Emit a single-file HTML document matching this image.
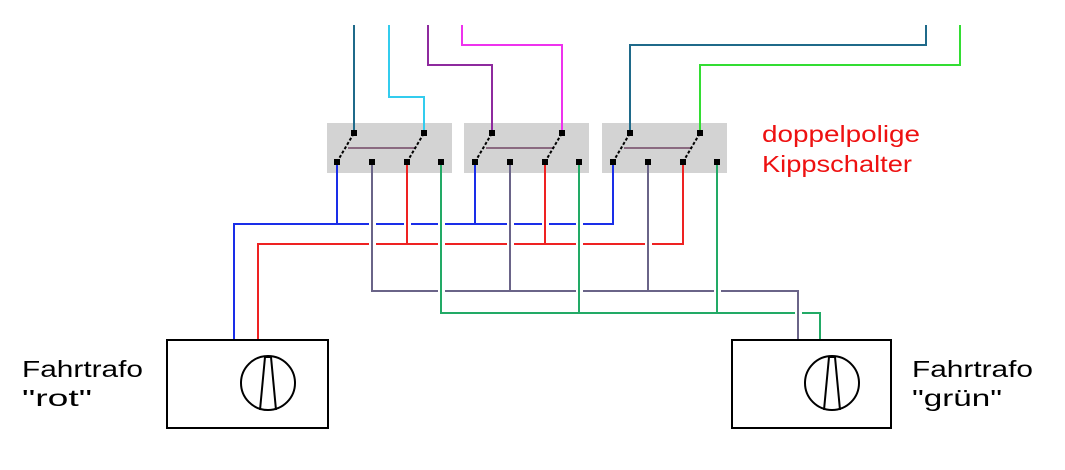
<!DOCTYPE html>
<html><head><style>body{margin:0;background:#fff}svg{display:block}</style></head><body>
<svg width="1065" height="470" viewBox="0 0 1065 470" xmlns="http://www.w3.org/2000/svg" font-family="Liberation Sans, sans-serif">
<rect width="1065" height="470" fill="#fff"/>
<g fill="#d3d3d3"><rect x="327" y="123" width="125" height="50"/><rect x="464" y="123" width="125" height="50"/><rect x="602" y="123" width="125" height="50"/></g>
<g fill="none" stroke-width="2">
<path d="M354 25V133" stroke="#1f6a8a"/>
<path d="M389 25V97H424V133" stroke="#33ccee"/>
<path d="M428 25V65H492V133" stroke="#8e2a9e"/>
<path d="M462 25V45H562V133" stroke="#ee33ee"/>
<path d="M926 25V45H630V133" stroke="#1f6a8a"/>
<path d="M960 25V65H700V133" stroke="#33dd33"/>
<path d="M234 340V224H613V162" stroke="#1a2ee8"/>
<path d="M258 340V244H683V162" stroke="#ee2222"/>
<path d="M372 162V291H798V340" stroke="#6a6488"/>
<path d="M441 162V313H820V340" stroke="#22aa66"/>
</g>
<g fill="#fff">
<rect x="369" y="222" width="7" height="5"/><rect x="404" y="222" width="7" height="5"/><rect x="438" y="222" width="7" height="5"/><rect x="507" y="222" width="7" height="5"/><rect x="542" y="222" width="7" height="5"/><rect x="576" y="222" width="7" height="5"/>
<rect x="369" y="242" width="7" height="5"/><rect x="438" y="242" width="7" height="5"/><rect x="507" y="242" width="7" height="5"/><rect x="576" y="242" width="7" height="5"/><rect x="645" y="242" width="7" height="5"/>
<rect x="438" y="289" width="7" height="5"/><rect x="576" y="289" width="7" height="5"/><rect x="714" y="289" width="7" height="5"/>
<rect x="795" y="311" width="7" height="5"/>
</g>
<g fill="none" stroke-width="2">
<path d="M337 162V224M475 162V224" stroke="#1a2ee8"/>
<path d="M407 162V244M545 162V244" stroke="#ee2222"/>
<path d="M441 162V313M579 162V313M717 162V313" stroke="#22aa66"/>
<path d="M798 291V340M372 162V291M510 162V291M648 162V291" stroke="#6a6488"/>
</g>
<g stroke="#8a6a80" stroke-width="2"><path d="M348 148H415M486 148H553M624 148H691"/></g>
<g stroke="#000" stroke-width="2" stroke-dasharray="3,2">
<path d="M337 162L354 133M407 162L424 133M475 162L492 133M545 162L562 133M613 162L630 133M683 162L700 133"/>
</g>
<g fill="#000">
<rect x="351" y="130" width="6" height="6"/><rect x="421" y="130" width="6" height="6"/><rect x="489" y="130" width="6" height="6"/><rect x="559" y="130" width="6" height="6"/><rect x="627" y="130" width="6" height="6"/><rect x="697" y="130" width="6" height="6"/>
<rect x="334" y="159" width="6" height="6"/><rect x="369" y="159" width="6" height="6"/><rect x="404" y="159" width="6" height="6"/><rect x="438" y="159" width="6" height="6"/>
<rect x="472" y="159" width="6" height="6"/><rect x="507" y="159" width="6" height="6"/><rect x="542" y="159" width="6" height="6"/><rect x="576" y="159" width="6" height="6"/>
<rect x="610" y="159" width="6" height="6"/><rect x="645" y="159" width="6" height="6"/><rect x="680" y="159" width="6" height="6"/><rect x="714" y="159" width="6" height="6"/>
</g>
<g fill="none" stroke="#000" stroke-width="2">
<rect x="167" y="340" width="161" height="88"/>
<rect x="732" y="340" width="159" height="88"/>
<circle cx="268" cy="383" r="27"/><path d="M260 410L265 357H271L276 410"/>
<circle cx="832" cy="383" r="27"/><path d="M824 410L829 357H835L840 410"/>
</g>
<g font-size="23" fill="#000">
<text x="22" y="377" textLength="121" lengthAdjust="spacingAndGlyphs">Fahrtrafo</text><text x="22" y="406" textLength="70" lengthAdjust="spacingAndGlyphs">"rot"</text>
<text x="912" y="377" textLength="121" lengthAdjust="spacingAndGlyphs">Fahrtrafo</text><text x="912" y="406" textLength="90" lengthAdjust="spacingAndGlyphs">"grün"</text>
</g>
<g font-size="23" fill="#ee1111">
<text x="762" y="142" textLength="158" lengthAdjust="spacingAndGlyphs">doppelpolige</text><text x="762" y="172" textLength="150" lengthAdjust="spacingAndGlyphs">Kippschalter</text>
</g>
</svg>
</body></html>
